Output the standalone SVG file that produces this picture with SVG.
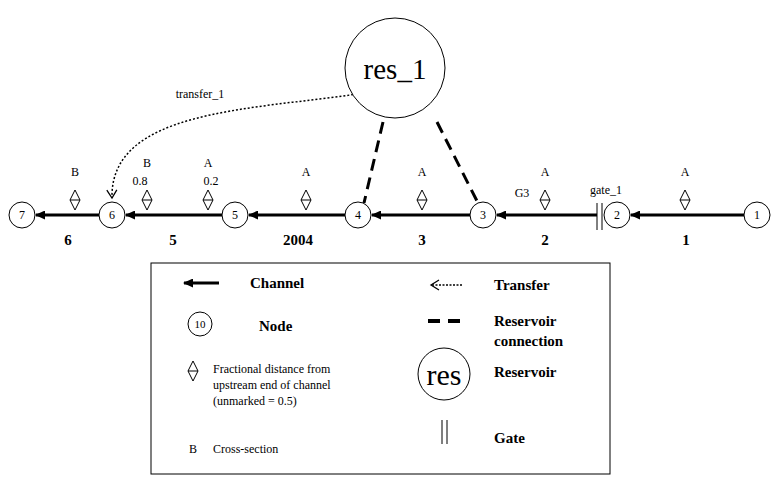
<svg xmlns="http://www.w3.org/2000/svg" width="776" height="479" viewBox="0 0 776 479">
<style>
text{font-family:"Liberation Serif","Times New Roman",serif;fill:#000}
.s{font-size:12px}.b{font-size:15px;font-weight:bold}
.n circle{fill:#fff;stroke:#000;stroke-width:1}
.ch{stroke:#000;stroke-width:3;marker-end:url(#ah)}
.dm{fill:#fff;stroke:#000;stroke-width:1}
</style>
<defs>
<marker id="ah" markerWidth="10" markerHeight="9" refX="9" refY="4.5" orient="auto" markerUnits="userSpaceOnUse"><path d="M0,0L10,4.5L0,9z" fill="#000"/></marker>
<marker id="oa" markerWidth="12" markerHeight="12" refX="10" refY="6" orient="auto" markerUnits="userSpaceOnUse"><path d="M2,1L10,6L2,11" fill="none" stroke="#000" stroke-width="1.3"/></marker>
<g id="dia"><path d="M0,-10L5,0L0,10L-5,0Z M-5,0H5" class="dm"/></g>
</defs>
<rect width="776" height="479" fill="#fff"/>
<g id="connectors">
<line class="ch" x1="744" y1="215" x2="631" y2="215"/>
<line class="ch" x1="597" y1="215" x2="497" y2="215"/>
<line class="ch" x1="470" y1="215" x2="372" y2="215"/>
<line class="ch" x1="345" y1="215" x2="249" y2="215"/>
<line class="ch" x1="222" y1="215" x2="126" y2="215"/>
<line class="ch" x1="99" y1="215" x2="36" y2="215"/>
<line x1="383" y1="122" x2="364" y2="203" stroke="#000" stroke-width="3" stroke-dasharray="12,7"/>
<line x1="437" y1="122" x2="477" y2="201" stroke="#000" stroke-width="3" stroke-dasharray="12,7"/>
<path d="M357,94 C250,110 110,110 112,198" fill="none" stroke="#000" stroke-width="1.5" stroke-dasharray="2,2" marker-end="url(#oa)"/>
</g>
<g id="gate_1"><line x1="597" y1="203" x2="597" y2="230" stroke="#000"/><line x1="602" y1="203" x2="602" y2="230" stroke="#000"/>
<text class="s" x="606" y="194" text-anchor="middle">gate_1</text></g>
<g id="res_1"><circle cx="395" cy="68" r="50" fill="#fff" stroke="#000"/><text x="395" y="79" text-anchor="middle" font-size="29">res_1</text></g>
<text class="s" x="200" y="98" text-anchor="middle">transfer_1</text>
<g class="n">
<g id="node7"><circle cx="22" cy="215" r="13"/><text class="s" x="22" y="219" text-anchor="middle">7</text></g>
<g id="node6"><circle cx="112" cy="215" r="13"/><text class="s" x="112" y="219" text-anchor="middle">6</text></g>
<g id="node5"><circle cx="235" cy="215" r="13"/><text class="s" x="235" y="219" text-anchor="middle">5</text></g>
<g id="node4"><circle cx="358" cy="215" r="13"/><text class="s" x="358" y="219" text-anchor="middle">4</text></g>
<g id="node3"><circle cx="483" cy="215" r="13"/><text class="s" x="483" y="219" text-anchor="middle">3</text></g>
<g id="node2"><circle cx="617" cy="215" r="13"/><text class="s" x="617" y="219" text-anchor="middle">2</text></g>
<g id="node1"><circle cx="757" cy="215" r="13"/><text class="s" x="757" y="219" text-anchor="middle">1</text></g>
</g>
<g id="xsections" class="s" text-anchor="middle">
<use href="#dia" x="75" y="200"/><text x="75" y="176">B</text>
<use href="#dia" x="147" y="200"/><text x="147" y="167">B</text><text x="140" y="185">0.8</text>
<use href="#dia" x="208" y="200"/><text x="208" y="167">A</text><text x="211" y="185">0.2</text>
<use href="#dia" x="306" y="200"/><text x="306" y="176">A</text>
<use href="#dia" x="422" y="200"/><text x="422" y="176">A</text>
<use href="#dia" x="545" y="200"/><text x="545" y="176">A</text><text x="522" y="197">G3</text>
<use href="#dia" x="685" y="200"/><text x="685" y="176">A</text>
</g>
<g id="channel-labels" class="b" text-anchor="middle">
<text x="68" y="245">6</text><text x="173" y="245">5</text><text x="298" y="245">2004</text><text x="422" y="245">3</text><text x="545" y="245">2</text><text x="686" y="245">1</text>
</g>
<g id="legend">
<rect x="151" y="263" width="459" height="211" fill="none" stroke="#000"/>
<line x1="219" y1="283" x2="184" y2="283" stroke="#000" stroke-width="3" marker-end="url(#ah)"/>
<text class="b" x="250" y="288">Channel</text>
<circle cx="200" cy="324" r="12" fill="#fff" stroke="#000"/><text x="200" y="328" font-size="11" text-anchor="middle">10</text>
<text class="b" x="259" y="331">Node</text>
<use href="#dia" x="193" y="371"/>
<text class="s" x="213" y="373">Fractional distance from</text>
<text class="s" x="213" y="389">upstream end of channel</text>
<text class="s" x="213" y="405">(unmarked = 0.5)</text>
<text class="s" x="193" y="453" text-anchor="middle">B</text><text class="s" x="213" y="453">Cross-section</text>
<path d="M462,285 H431" fill="none" stroke="#000" stroke-width="1.5" stroke-dasharray="2,1.5" marker-end="url(#oa)"/>
<text class="b" x="494" y="290">Transfer</text>
<line x1="428" y1="321" x2="464" y2="321" stroke="#000" stroke-width="4" stroke-dasharray="12,8"/>
<text class="b" x="494" y="326">Reservoir</text><text class="b" x="494" y="346">connection</text>
<circle cx="444" cy="374" r="26" fill="#fff" stroke="#000"/><text x="444" y="385" font-size="30" text-anchor="middle">res</text>
<text class="b" x="494" y="377">Reservoir</text>
<line x1="442" y1="420" x2="442" y2="444" stroke="#000"/><line x1="447" y1="420" x2="447" y2="444" stroke="#000"/>
<text class="b" x="494" y="443">Gate</text>
</g>
</svg>
